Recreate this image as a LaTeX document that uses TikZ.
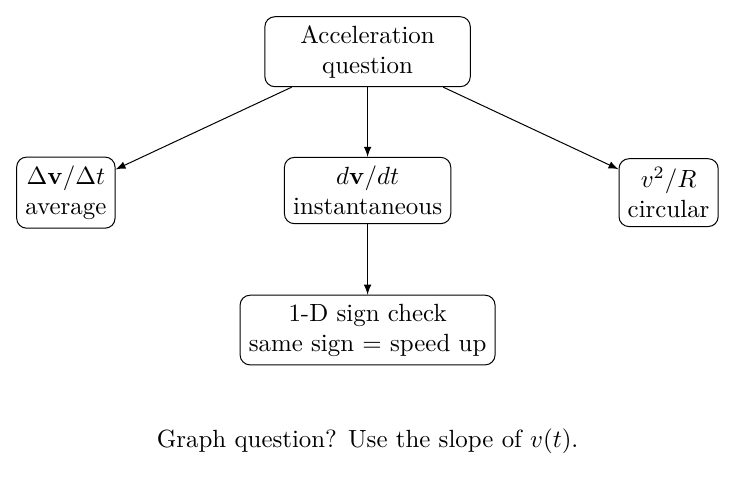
\documentclass[tikz,border=0pt]{standalone}
\usepackage{amssymb,amsmath}
\usepackage{tikz}
\usetikzlibrary{arrows,shapes}
\tikzstyle{box}=[draw,rounded corners=4pt,align=center,inner sep=3.5pt]
\tikzstyle{edge} = [draw,-latex]

\begin{document}
\begin{tikzpicture}
        \useasboundingbox (0,0) rectangle (10.42,-6.79);
        \node[box,minimum width=2.9cm,minimum height=0.96cm] (q) at (5.19,-0.73) {Acceleration\\question};
        \node[box] (avg) at (0.93,-2.72) {$\Delta\mathbf{v}/\Delta t$\\average};
        \node[box] (inst) at (5.19,-2.69) {$d\mathbf{v}/dt$\\instantaneous};
        \node[box] (circ) at (9.44,-2.72) {$v^2/R$\\circular};
        \node[box] (sign) at (5.19,-4.66) {1-D sign check\\same sign = speed up};
        \node (graph) at (5.19,-6.23) {Graph question? Use the slope of $v(t)$.};
        \draw[edge] (q) to (avg);
        \draw[edge] (q) to (inst);
        \draw[edge] (q) to (circ);
        \draw[edge] (inst) to (sign);
      \end{tikzpicture}
\end{document}
